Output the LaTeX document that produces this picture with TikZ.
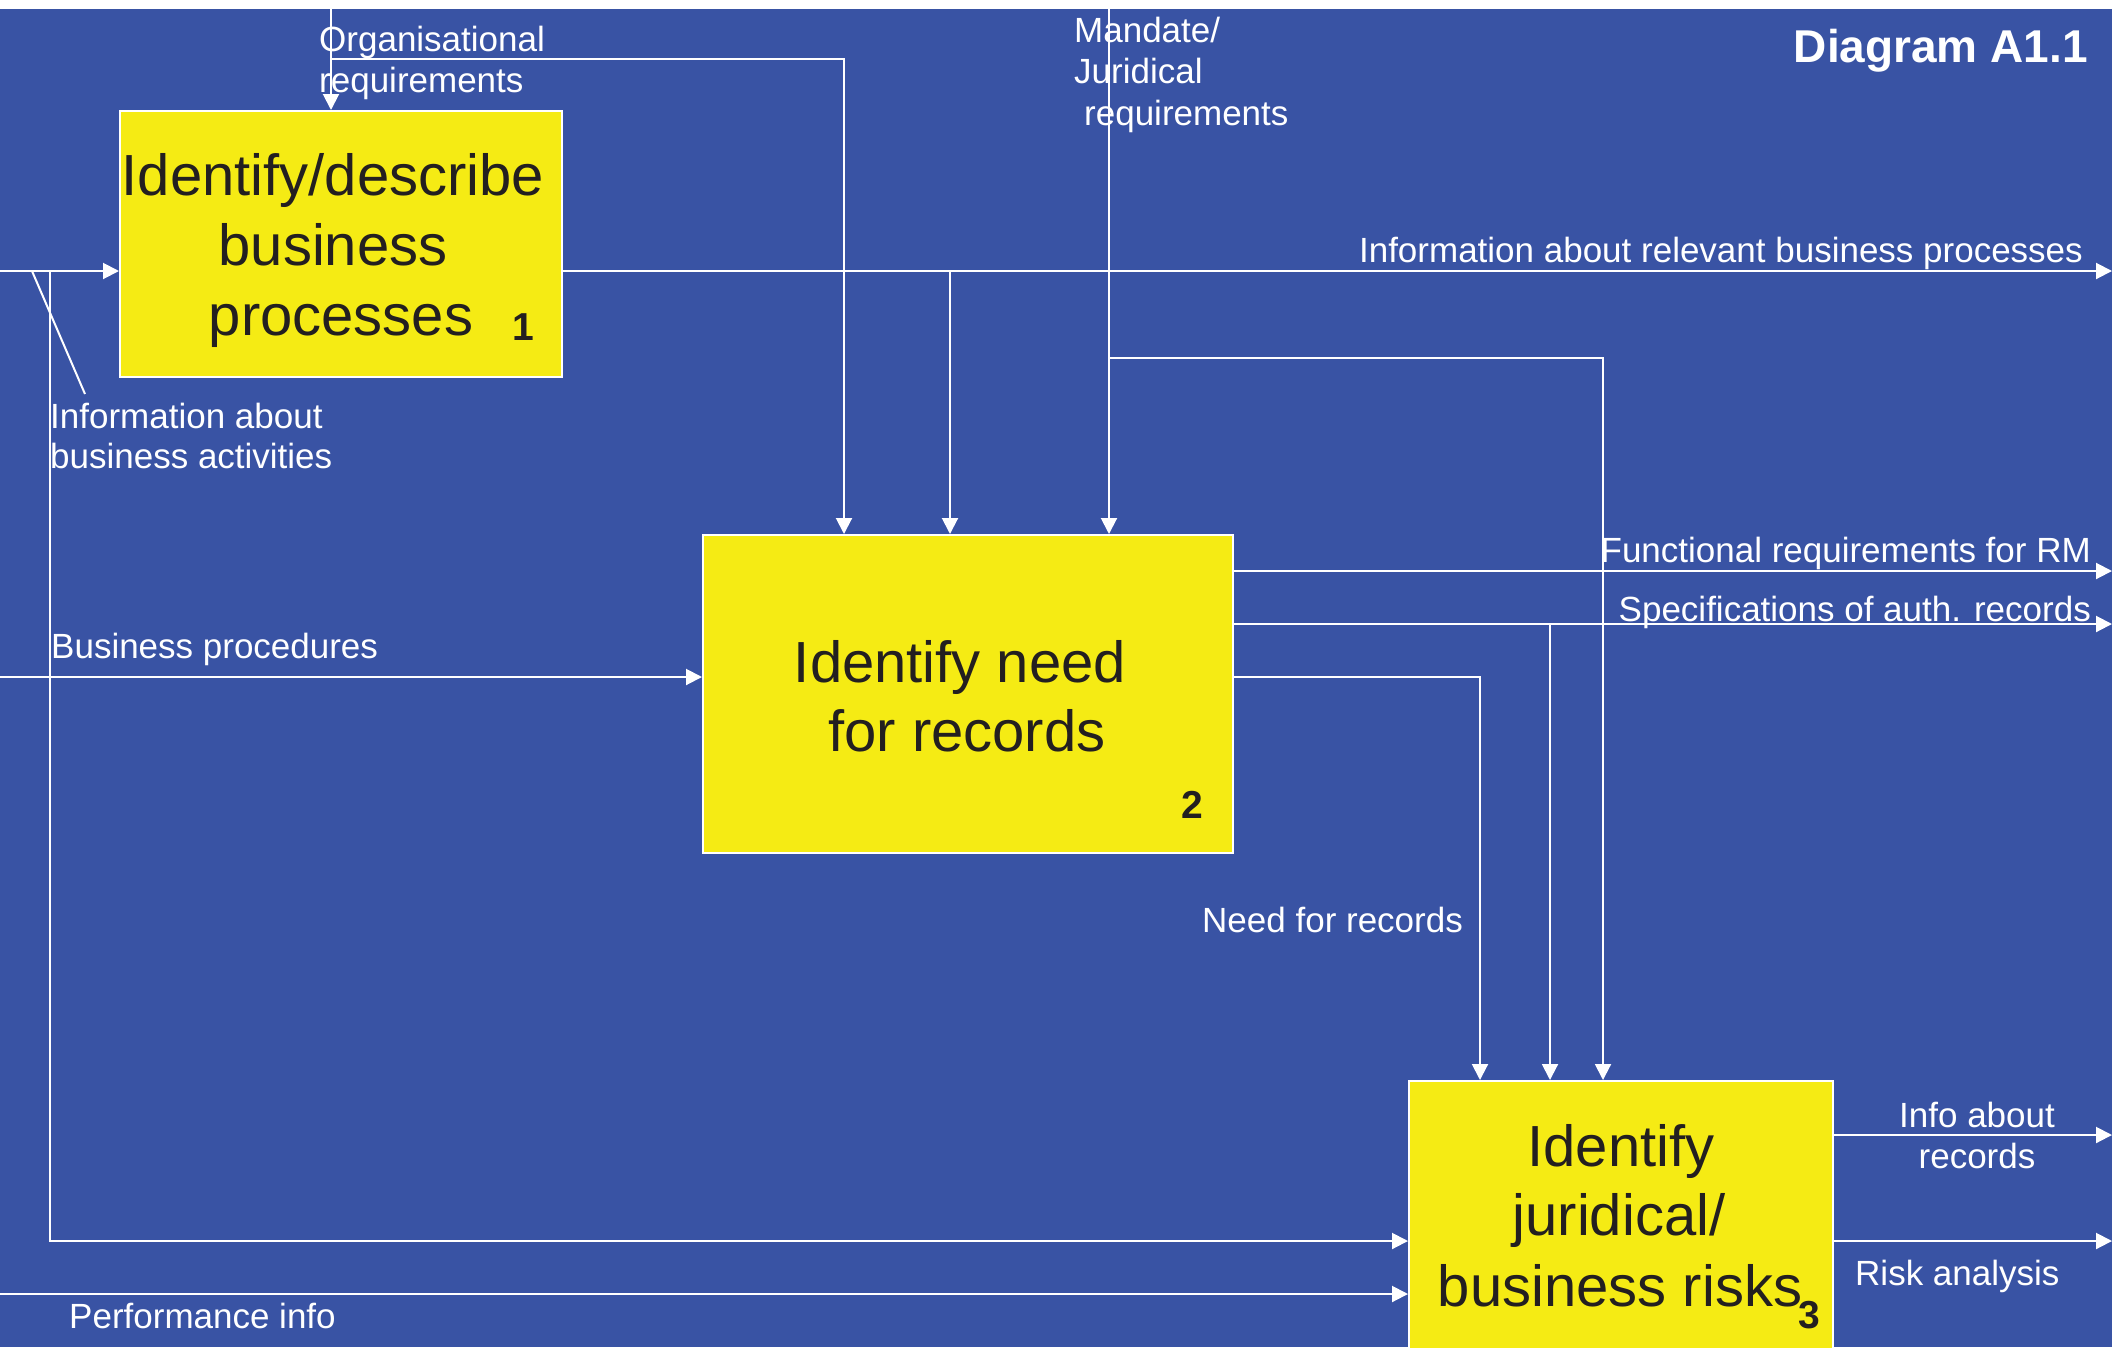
\documentclass[tikz,border=0pt]{standalone}
\usepackage{fontspec}
\setmainfont{Liberation Sans}
\usetikzlibrary{arrows.meta}
\definecolor{bgblue}{RGB}{57,83,164}
\definecolor{boxyellow}{RGB}{245,235,20}
\definecolor{inkdark}{RGB}{35,31,32}
\begin{document}
\begin{tikzpicture}[x=1pt,y=-1pt,
  procbox/.style={draw=white,line width=2pt,fill=boxyellow,inner sep=0pt,rectangle},
  wire/.style={draw=white,line width=2pt},
  flow/.style={wire,-{Triangle[length=16pt,width=16pt]}},
  lbl/.style={text=white,inner sep=0pt,font=\fontsize{35}{42}\selectfont},
  boxtxt/.style={text=inkdark,inner sep=0pt,anchor=base,font=\fontsize{58}{70}\selectfont},
  boxnum/.style={text=inkdark,inner sep=0pt,anchor=base west,font=\fontsize{39}{46}\selectfont\bfseries},
  headline/.style={text=white,inner sep=0pt,anchor=base east,font=\fontsize{46}{54}\selectfont\bfseries}]
\useasboundingbox (0,0) rectangle (2112,1347);
\clip (0,0) rectangle (2112,1347);
% page and backdrop
\fill[white] (0,0) rectangle (2112,1347);
\fill[bgblue] (0,9) rectangle (2112,1347);

% activity boxes
\node[procbox,minimum width=442pt,minimum height=266pt] (b1) at (341,244) {};
\node[procbox,minimum width=530pt,minimum height=318pt] (b2) at (968,694) {};
\node[procbox,minimum width=424pt,minimum height=290pt] (b3) at (1621,1226) {};

% box texts
\node[boxtxt] (t1a) at (333,195) {Identify/describe};
\node[boxtxt] (t1b) at (333,265) {business};
\node[boxtxt] (t1c) at (341,335) {processes};
\node[boxnum] (n1) at (512,340) {1};
\node[boxtxt] (t2a) at (960,682) {Identify need};
\node[boxtxt] (t2b) at (967,751) {for records};
\node[boxnum] (n2) at (1181,818) {2};
\node[boxtxt] (t3a) at (1621,1166) {Identify};
\node[boxtxt] (t3b) at (1619,1235) {juridical/};
\node[boxtxt] (t3c) at (1620,1306) {business risks};
\node[boxnum] (n3) at (1798,1328) {3};

% title
\node[headline] (title) at (2088,62) {Diagram A1.1};

% free ends and junctions
\coordinate (in1) at (0,271);
\coordinate (j1) at (50,271);
\coordinate (lead1) at (32,271);
\coordinate (lead2) at (85,394);
\coordinate (org) at (331,9);
\coordinate (orgj) at (331,59);
\coordinate (c844) at (844,0);
\coordinate (out1) at (2112,271);
\coordinate (br1) at (950,271);
\coordinate (mand) at (1109,9);
\coordinate (mandj) at (1109,358);
\coordinate (c1603) at (1603,0);
\coordinate (out2a) at (2112,571);
\coordinate (out2b) at (2112,624);
\coordinate (br2) at (1550,624);
\coordinate (nr) at (1480,677);
\coordinate (in2) at (0,677);
\coordinate (in3a) at (0,1241);
\coordinate (in3b) at (0,1294);
\coordinate (out3a) at (2112,1135);
\coordinate (out3b) at (2112,1241);

% inputs
\draw[flow] (in1) -- (in1 -| b1.west);
\draw[flow] (j1) |- (in3a -| b3.west);
\draw[wire] (lead1) -- (lead2);
\draw[flow] (in2) -- (in2 -| b2.west);
\draw[flow] (in3b) -- (in3b -| b3.west);

% controls
\draw[flow] (org) -- (org |- b1.north);
\draw[flow] (orgj) -| (b2.north -| c844);
\draw[flow] (mand) -- (mand |- b2.north);
\draw[flow] (mandj) -| (b3.north -| c1603);

% outputs of box 1
\draw[flow] (in1 -| b1.east) -- (out1);
\draw[flow] (br1) -- (br1 |- b2.north);

% outputs of box 2
\draw[flow] (out2a -| b2.east) -- (out2a);
\draw[flow] (out2b -| b2.east) -- (out2b);
\draw[flow] (br2) -- (br2 |- b3.north);
\draw[flow] (nr -| b2.east) -| (b3.north -| nr);

% outputs of box 3
\draw[flow] (out3a -| b3.east) -- (out3a);
\draw[flow] (out3b -| b3.east) -- (out3b);

% arrow labels
\node[lbl,anchor=base west] (lorg1) at (319,51) {Organisational};
\node[lbl,anchor=base west] (lorg2) at (319,92) {requirements};
\node[lbl,anchor=base west] (lman1) at (1074,42) {Mandate/};
\node[lbl,anchor=base west] (lman2) at (1074,83) {Juridical};
\node[lbl,anchor=base west] (lman3) at (1084,125) {requirements};
\node[lbl,anchor=base east] (lrel) at (2083,262) {Information about relevant business processes};
\node[lbl,anchor=base west] (lact1) at (50,428) {Information about};
\node[lbl,anchor=base west] (lact2) at (50,468) {business activities};
\node[lbl,anchor=base west] (lproc) at (51,658) {Business procedures};
\node[lbl,anchor=base east] (lfun) at (2091,562) {Functional requirements for RM};
\node[lbl,anchor=base east] (lspec) at (2091,621) {Specifications of auth. records};
\node[lbl,anchor=base west] (lneed) at (1202,932) {Need for records};
\node[lbl,anchor=base west] (lperf) at (69,1328) {Performance info};
\node[lbl,anchor=base] (linfo1) at (1977,1127) {Info about};
\node[lbl,anchor=base] (linfo2) at (1977,1168) {records};
\node[lbl,anchor=base west] (lrisk) at (1855,1285) {Risk analysis};
\end{tikzpicture}
\end{document}
